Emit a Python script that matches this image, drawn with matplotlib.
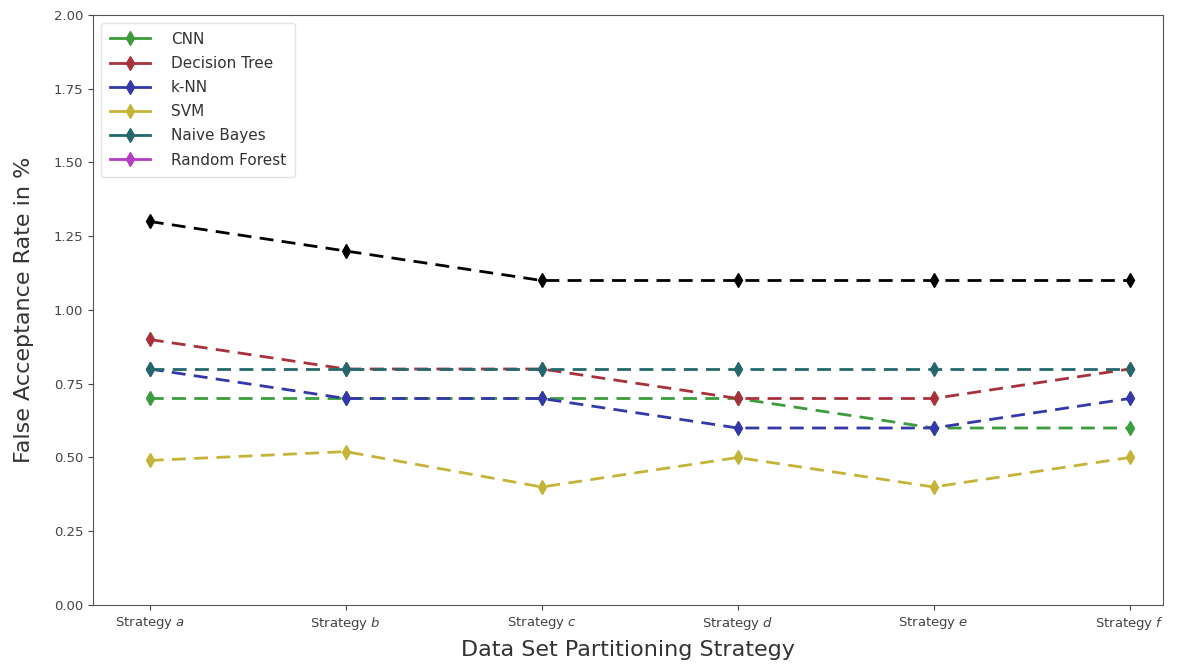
import matplotlib.pyplot as plt
from matplotlib.lines import Line2D

strategies = ['Strategy $a$', 'Strategy $b$', 'Strategy $c$',
              'Strategy $d$', 'Strategy $e$', 'Strategy $f$']

cnn = [0.70, 0.70, 0.70, 0.70, 0.60, 0.60]
decision_tree = [0.90, 0.80, 0.80, 0.70, 0.70, 0.80]
knn = [0.80, 0.70, 0.70, 0.60, 0.60, 0.70]
svm = [0.49, 0.52, 0.40, 0.50, 0.40, 0.50]
naive_bayes = [0.80, 0.80, 0.80, 0.80, 0.80, 0.80]
overall = [1.30, 1.20, 1.10, 1.10, 1.10, 1.10]

names = ['CNN', 'Decision Tree', 'k-NN', 'SVM', 'Naive Bayes', 'Random Forest']
colors = ['#3c9c3c', '#a8323c', '#3438a8', '#c4b438', '#24686c', '#b43cc4']


def main():
    plt.rcParams['text.color'] = '#333333'
    plt.rcParams['axes.labelcolor'] = '#333333'
    plt.rcParams['xtick.color'] = '#444444'
    plt.rcParams['ytick.color'] = '#444444'
    fig = plt.figure(figsize=(11.77, 6.72), dpi=100)
    ax = fig.add_axes([0.079, 0.0997, 0.909, 0.878])
    x = list(range(len(strategies)))

    series = [cnn, decision_tree, knn, svm, naive_bayes]
    for vals, c in zip(series, colors):
        ax.plot(x, vals, linestyle='--', marker='d', color=c, lw=2,
                markersize=7, dashes=(5, 3))
    ax.plot(x, overall, linestyle='--', marker='d', color='black', lw=2,
            markersize=7, dashes=(5, 3))

    handles = [Line2D([], [], color=c, marker='d', lw=2, markersize=7)
               for c in colors]
    leg = ax.legend(handles, names, loc='upper left', fontsize=11,
                    handlelength=2.6, labelspacing=0.6, borderpad=0.6,
                    handletextpad=1.4)
    leg.get_frame().set_edgecolor('#dddddd')

    for s in ax.spines.values():
        s.set_color('#555555')

    ax.set_xticks(x)
    ax.set_xticklabels(strategies, fontsize=9.5)
    ax.set_xlim(-0.29, 5.17)
    ax.set_ylim(0, 2.0)
    ax.set_yticks([0, 0.25, 0.5, 0.75, 1.0, 1.25, 1.5, 1.75, 2.0])
    ax.set_yticklabels(['%.2f' % v for v in ax.get_yticks()], fontsize=9.5)
    ax.set_xlabel('Data Set Partitioning Strategy', fontsize=16)
    ax.set_ylabel('False Acceptance Rate in %', fontsize=16, labelpad=14)
    ax.xaxis.labelpad = 6
    fig.savefig('out.png', dpi=100)
    plt.close(fig)


if __name__ == "__main__":
    main()
